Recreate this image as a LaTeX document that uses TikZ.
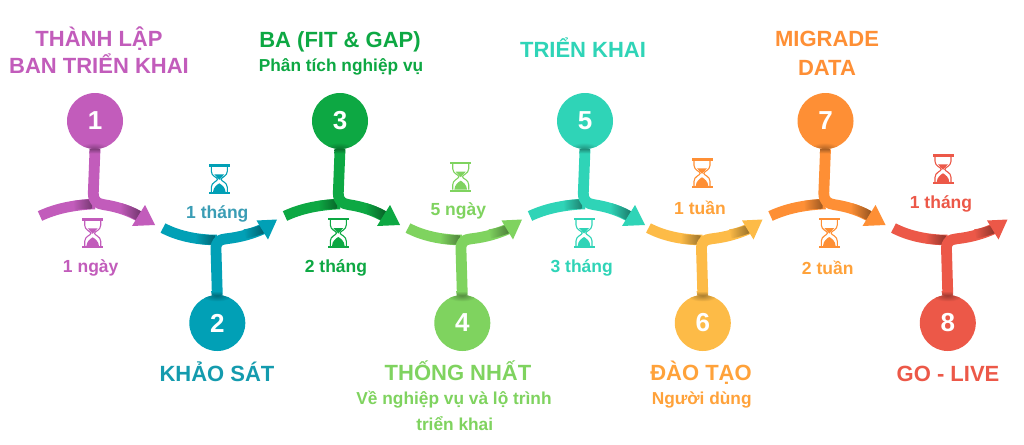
\documentclass[tikz,border=0pt]{standalone}
\usepackage{fontspec}
\setmainfont{Liberation Sans}
\definecolor{cA}{HTML}{C25CBB}
\definecolor{cB}{HTML}{01A0B6}
\definecolor{cC}{HTML}{0DA843}
\definecolor{cD}{HTML}{7FD35F}
\definecolor{cE}{HTML}{2FD4B7}
\definecolor{cF}{HTML}{FDBB47}
\definecolor{cG}{HTML}{FE8F35}
\definecolor{cH}{HTML}{EC5848}
\definecolor{tB}{HTML}{3A9DB5}
\definecolor{tF}{HTML}{FFA23A}
\tikzset{
  bandline/.style={draw=#1,line width=10.5pt},
  stripline/.style={draw=#1,line width=10.8pt,line join=round},
  numdot/.style={circle,fill=#1,minimum size=56pt,inner sep=0pt,text=white,font=\fontsize{26}{26}\selectfont\bfseries},
  headtxt/.style={text=#1,anchor=base,inner sep=0pt,font=\fontsize{22}{22}\selectfont\bfseries},
  subtxt/.style={text=#1,anchor=base,inner sep=0pt,font=\fontsize{17.3}{17.3}\selectfont\bfseries},
  durtxt/.style={text=#1,font=\fontsize{17.5}{17.5}\selectfont\bfseries,inner sep=0pt},
  pics/hourglass/.style={code={
    \fill[#1] (-10.5,-15) rectangle (10.5,-12.8);
    \fill[#1] (-10.5,12.8) rectangle (10.5,15);
    \draw[#1,line width=1.1pt] (-8,-13) -- (-8,-8) .. controls (-8,-3) and (-1.8,-2) .. (-1.8,0) .. controls (-1.8,2) and (-8,3) .. (-8,8) -- (-8,13);
    \draw[#1,line width=1.1pt] (8,-13) -- (8,-8) .. controls (8,-3) and (1.8,-2) .. (1.8,0) .. controls (1.8,2) and (8,3) .. (8,8) -- (8,13);
    \fill[#1] (-5,-5) -- (5,-5) -- (0,0.5) -- cycle;
    \fill[#1] (-6.3,12.8) .. controls (-6,8) and (-2.5,5.5) .. (0,4) .. controls (2.5,5.5) and (6,8) .. (6.3,12.8) -- cycle;
  }}
}
% #1 shift, #2 colour, #3 number
\newcommand{\topstep}[3]{%
\begin{scope}[xshift=#1pt]
  \node[numdot=#2] (c#3) at (95,121) {#3};
  \coordinate (s#3) at (40,216);
  \coordinate (j#3) at (95,204);
  \coordinate (e#3) at (140,217);
  \begin{scope}\clip (95,121) circle (28pt);
    \shade[inner color=#2!68!black,outer color=#2] (94,149) ellipse (15pt and 6.5pt);
  \end{scope}
  \draw[bandline=#2] (s#3) .. controls (55,209) and (72,205) .. (j#3);
  \shade[left color=#2,right color=#2!62!black] (73,201) .. controls (79,199.9) and (85,199.4) .. (92,199.1) -- (92,208.7) .. controls (85,208.9) and (80,209.2) .. (75,210) -- cycle;
  \draw[stripline=#2] (c#3.south) -- (93.3,193) .. controls (93.3,201) and (97,203.7) .. (104,204.7) .. controls (118,206.8) and (130,211) .. (e#3);
  \shade[top color=#2!68!black,bottom color=#2] (89.6,149) -- (100.2,149) -- (100,153.5) -- (89.4,153.5) -- cycle;
  \shade[left color=#2,right color=#2!58!black] (122.2,203.4) .. controls (128.5,205.1) and (134.5,207.6) .. (141,211.2) -- (136,220) .. controls (130,216.8) and (125,214.4) .. (119.8,212.4) -- cycle;
  \fill[#2] (145,205) -- (155,225) -- (132,226) -- cycle;
\end{scope}}
\newcommand{\botstep}[3]{%
\begin{scope}[xshift=#1pt]
  \node[numdot=#2] (c#3) at (217.3,323) {#3};
  \coordinate (s#3) at (163,228);
  \coordinate (j#3) at (217,240);
  \coordinate (e#3) at (265,228);
  \begin{scope}\clip (217.3,323) circle (28pt);
    \shade[inner color=#2!68!black,outer color=#2] (217,295.5) ellipse (15pt and 6pt);
  \end{scope}
  \draw[bandline=#2] (s#3) .. controls (176,235) and (195,240) .. (j#3);
  \shade[left color=#2,right color=#2!62!black] (197,234) .. controls (202,234.8) and (208,235.2) .. (215,235.3) -- (215,244.7) .. controls (207,244.7) and (201,244.2) .. (195,243.2) -- cycle;
  \draw[stripline=#2] (c#3.north) -- (216,250) .. controls (215.5,242) and (219,239.5) .. (226,238.8) .. controls (240,237.2) and (252,234) .. (e#3);
  \shade[top color=#2,bottom color=#2!68!black] (211,291) -- (221.5,291) -- (222.5,295.5) -- (211.9,295.5) -- cycle;
  \shade[left color=#2,right color=#2!58!black] (243.6,229.4) .. controls (250,228.4) and (256,226.9) .. (260.5,225.2) -- (265.2,232.8) .. controls (259,235.3) and (252,237.4) .. (246.2,238.4) -- cycle;
  \fill[#2] (277,219.5) -- (256.5,220.5) -- (268,239.5) -- cycle;
\end{scope}}
\begin{document}
\begin{tikzpicture}[x=1pt,y=-1pt]
\fill[white] (0,0) rectangle (1024,444);
\useasboundingbox (0,0) rectangle (1024,444);
\topstep{0}{cA}{1}
\botstep{0}{cB}{2}
\topstep{245}{cC}{3}
\botstep{245}{cD}{4}
\topstep{490}{cE}{5}
\botstep{485.5}{cF}{6}
\topstep{730.5}{cG}{7}
\botstep{730.5}{cH}{8}
% hourglasses
\pic at (92.7,233.3) {hourglass=cA};
\pic at (219.3,179.3) {hourglass=cB};
\pic at (338.3,233) {hourglass=cC};
\pic at (460.7,176.7) {hourglass=cD};
\pic at (584,233) {hourglass=cE};
\pic at (702,173.3) {hourglass=cG};
\pic at (829.3,233) {hourglass=cG};
\pic at (943,169.3) {hourglass=cH};
% durations
\node[durtxt=cA] (d1) at (90.7,268) {1 ngày};
\node[durtxt=tB] (d2) at (217.3,214) {1 tháng};
\node[durtxt=cC] (d3) at (336,268) {2 tháng};
\node[durtxt=cD] (d4) at (458.3,211) {5 ngày};
\node[durtxt=cE] (d5) at (581.7,267.7) {3 tháng};
\node[durtxt=tF] (d6) at (700,207.7) {1 tuần};
\node[durtxt=tF] (d7) at (827.7,267.7) {2 tuần};
\node[durtxt=cH] (d8) at (941,204.3) {1 tháng};
% headings
\node[headtxt=cA] (h1a) at (99,46) {THÀNH LẬP};
\node[headtxt=cA] (h1b) at (99,73) {BAN TRIỂN KHAI};
\node[headtxt=cB!85!gray] (h2) at (217,381) {KHẢO SÁT};
\node[headtxt=cC] (h3) at (340,48) {BA (FIT \& GAP)};
\node[subtxt=cC] (h3s) at (341,71.7) {Phân tích nghiệp vụ};
\node[headtxt=cD] (h4) at (458,380.7) {THỐNG NHẤT};
\node[subtxt=cD] (h4s) at (454,404) {Về nghiệp vụ và lộ trình};
\node[subtxt=cD] (h4t) at (454.7,430) {triển khai};
\node[headtxt=cE] (h5) at (583,57) {TRIỂN KHAI};
\node[headtxt=tF] (h6) at (701,380.7) {ĐÀO TẠO};
\node[subtxt=tF] (h6s) at (701.7,404) {Người dùng};
\node[headtxt=cG] (h7a) at (827,47) {MIGRADE};
\node[headtxt=cG] (h7b) at (827,75) {DATA};
\node[headtxt=cH] (h8) at (948,381) {GO - LIVE};
\end{tikzpicture}
\end{document}
